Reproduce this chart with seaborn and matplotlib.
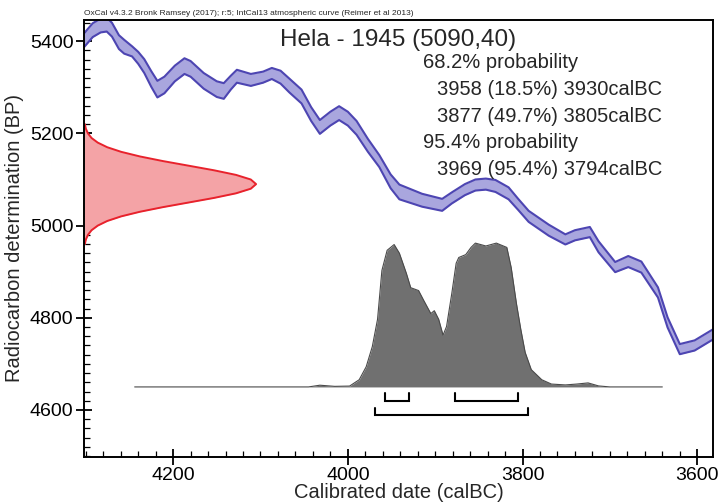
import numpy as np
import pandas as pd
import matplotlib
matplotlib.use('Agg')
import matplotlib.pyplot as plt
from matplotlib.ticker import MultipleLocator
import seaborn as sns

# IntCal13 curve: calBC, BP (mid of band), band half width
curve_years = [4302, 4292, 4283, 4276, 4270, 4262, 4256, 4247, 4240, 4233, 4225, 4218,
               4210, 4198, 4187, 4180, 4165, 4150, 4142, 4134, 4127, 4111, 4097, 4087,
               4077, 4067, 4053, 4042, 4032, 4020, 4010, 4000, 3990, 3977, 3964, 3951,
               3941, 3915, 3892, 3881, 3866, 3854, 3842, 3831, 3816, 3805, 3793, 3770,
               3751, 3740, 3723, 3713, 3694, 3679, 3664, 3645, 3634, 3620, 3603, 3582]
curve_bp = [5402, 5424, 5434, 5436, 5425, 5398, 5388, 5378, 5364, 5346, 5318, 5296,
            5305, 5330, 5346, 5340, 5314, 5296, 5292, 5310, 5324, 5316, 5322, 5330,
            5322, 5304, 5280, 5242, 5214, 5232, 5244, 5232, 5212, 5174, 5140, 5096,
            5073, 5055, 5045, 5060, 5078, 5088, 5090, 5086, 5070, 5046, 5020, 4990,
            4970, 4979, 4986, 4954, 4910, 4922, 4910, 4855, 4790, 4732, 4740, 4764]
curve_err = [15, 15, 15, 15, 15, 15, 15, 11, 13, 15, 17, 18,
             18, 17, 17, 17, 17, 17, 17, 15, 14, 13, 12, 12,
             14, 15, 15, 15, 15, 15, 15, 15, 15, 14, 13, 15,
             16, 14, 13, 12, 12, 12, 12, 13, 13, 12, 12, 12,
             11, 11, 11, 12, 11, 12, 12, 11, 11, 11, 11, 11]

# radiocarbon date 5090 +/- 40 BP, relative likelihood
rc_bp = [4960, 4970, 4980, 4990, 5000, 5010, 5020, 5030, 5040, 5050, 5060, 5070, 5080,
         5090, 5100, 5110, 5120, 5130, 5140, 5150, 5160, 5170, 5180, 5190, 5200, 5210, 5220]
rc_prob = [0.005, 0.011, 0.023, 0.044, 0.080, 0.135, 0.216, 0.325, 0.458, 0.607, 0.755,
           0.883, 0.969, 1.0, 0.969, 0.883, 0.755, 0.607, 0.458, 0.325, 0.216, 0.135,
           0.080, 0.044, 0.023, 0.011, 0.005]

# calibrated distribution (relative probability)
cal_years = [4244, 4100, 4045, 4032, 4015, 3998, 3987, 3979, 3972, 3966, 3961, 3955,
             3947, 3941, 3933, 3928, 3919, 3913, 3905, 3901, 3896, 3891, 3887, 3881,
             3876, 3873, 3865, 3859, 3854, 3842, 3830, 3818, 3813, 3807, 3802, 3797,
             3790, 3778, 3767, 3751, 3738, 3725, 3713, 3700, 3640]
cal_prob = [0, 0, 0, 0.012, 0.004, 0.006, 0.05, 0.14, 0.28, 0.47, 0.81, 0.95,
            0.99, 0.93, 0.79, 0.69, 0.67, 0.60, 0.51, 0.53, 0.47, 0.36, 0.42, 0.65,
            0.86, 0.90, 0.92, 0.97, 1.0, 0.98, 1.0, 0.97, 0.83, 0.58, 0.40, 0.24,
            0.12, 0.05, 0.02, 0.014, 0.02, 0.028, 0.007, 0, 0]

range68 = [(3958, 3930), (3877, 3805)]
range95 = [(3969, 3794)]

header = 'OxCal v4.3.2 Bronk Ramsey (2017); r:5; IntCal13 atmospheric curve (Reimer et al 2013)'
title = 'Hela - 1945 (5090,40)'
result_lines = ['68.2% probability',
                '3958 (18.5%) 3930calBC',
                '3877 (49.7%) 3805calBC',
                '95.4% probability',
                '3969 (95.4%) 3794calBC']

XLIM = (4302, 3582)
YLIM = (4498, 5446)

sns.set_theme(style='ticks')
plt.rcParams['font.family'] = ['Liberation Sans', 'DejaVu Sans']

fig = plt.figure(figsize=(7.2, 5.04), dpi=100)
ax = fig.add_axes([84 / 720, 47 / 504, 629 / 720, 437 / 504])

# calibration curve band
df_curve = pd.DataFrame({'year': curve_years, 'bp': curve_bp, 'err': curve_err})
df_curve['lo'] = df_curve['bp'] - df_curve['err']
df_curve['hi'] = df_curve['bp'] + df_curve['err']
ax.fill_between(df_curve['year'], df_curve['lo'], df_curve['hi'], color='#a9a6de', lw=0)
sns.lineplot(data=df_curve, x='year', y='lo', ax=ax, color='#4d45b2', lw=1.5, estimator=None)
sns.lineplot(data=df_curve, x='year', y='hi', ax=ax, color='#4d45b2', lw=1.5, estimator=None)

# radiocarbon likelihood on the y axis
rc_width = 197
df_rc = pd.DataFrame({'bp': rc_bp, 'p': rc_prob})
df_rc['x'] = XLIM[0] - df_rc['p'] * rc_width
ax.fill_betweenx(df_rc['bp'], XLIM[0], df_rc['x'], color='#f4a3a6', lw=0)
sns.lineplot(data=df_rc, x='x', y='bp', ax=ax, color='#e8222c', lw=1.4, sort=False, estimator=None)

# calibrated distribution
base_bp = 4650
cal_height = 312
df_cal = pd.DataFrame({'year': cal_years, 'p': cal_prob})
df_cal['top'] = base_bp + df_cal['p'] * cal_height
ax.fill_between(df_cal['year'], base_bp, df_cal['top'], color='#707070', lw=0)
sns.lineplot(data=df_cal, x='year', y='top', ax=ax, color='#4a4a4a', lw=0.8, estimator=None)

# ranges
def bracket(x0, x1, level, tick):
    ax.plot([x0, x0, x1, x1], [level + tick, level, level, level + tick],
            color='black', lw=1.5, solid_joinstyle='miter')

for x0, x1 in range68:
    bracket(x0, x1, 4620, 17)
for x0, x1 in range95:
    bracket(x0, x1, 4589, 16)

ax.set_xlim(*XLIM)
ax.set_ylim(*YLIM)
ax.xaxis.set_major_locator(MultipleLocator(200))
ax.xaxis.set_minor_locator(MultipleLocator(20))
ax.yaxis.set_major_locator(MultipleLocator(200))
ax.yaxis.set_minor_locator(MultipleLocator(20))
ax.tick_params(which='major', direction='inout', length=11, width=1.3, labelsize=14,
               colors='black', pad=2)
ax.tick_params(which='minor', direction='in', length=4, width=0.9, colors='black')
for s in ax.spines.values():
    s.set_visible(True)
    s.set_color('black')
    s.set_linewidth(1.4)

ax.set_xlabel('Calibrated date (calBC)', fontsize=14.5, labelpad=-1)
ax.set_ylabel('Radiocarbon determination (BP)', fontsize=14.5, labelpad=4)

ax.text(0.0, 1.006, header, transform=ax.transAxes, fontsize=6, va='bottom', ha='left')
ax.text((280 - 84) / 629, (457 - 46) / 437, title, transform=ax.transAxes,
        fontsize=17.5, va='baseline', ha='left')
baselines = [68, 95, 122, 148, 175]
indents = [423, 437, 437, 423, 437]
for txt, yb, xl in zip(result_lines, baselines, indents):
    ax.text((xl - 84) / 629, (457 - yb) / 437, txt, transform=ax.transAxes,
            fontsize=14.5, va='baseline', ha='left')

fig.savefig('out.png', dpi=100, facecolor='white')
